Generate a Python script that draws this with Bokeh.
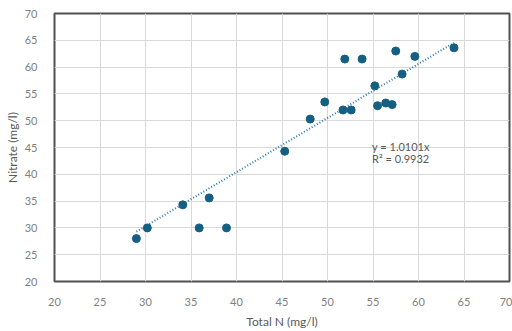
from bokeh.plotting import figure
from bokeh.models import Range1d, FixedTicker, Label
from bokeh.embed import file_html
from bokeh.resources import INLINE

total_n = [29.0, 30.2, 34.1, 37.0, 35.9, 38.9, 45.3, 48.1, 49.7, 51.7, 52.6,
           51.9, 53.8, 55.2, 55.5, 56.4, 57.1, 57.5, 58.2, 59.6, 63.9]
nitrate = [28.0, 30.0, 34.3, 35.6, 30.0, 30.0, 44.3, 50.3, 53.5, 52.0, 52.0,
           61.5, 61.5, 56.5, 52.8, 53.3, 53.0, 63.0, 58.7, 62.0, 63.6]
slope = 1.0101
r2 = 0.9932
ticks = [20, 25, 30, 35, 40, 45, 50, 55, 60, 65, 70]

FONT = "Lato"
GRAY = "#595959"

p = figure(width=512, height=331, output_backend="svg", toolbar_location=None,
           x_range=Range1d(20, 70), y_range=Range1d(20, 70),
           min_border_left=54, min_border_right=3, min_border_top=13, min_border_bottom=48)
p.background_fill_color = "white"
p.border_fill_color = "white"
p.outline_line_color = "#505050"
p.outline_line_width = 2

for ax in (p.xaxis[0], p.yaxis[0]):
    ax.ticker = FixedTicker(ticks=ticks)
    ax.axis_line_color = None
    ax.major_tick_line_color = None
    ax.minor_tick_line_color = None
    ax.major_label_text_color = "#7f7f7f"
    ax.major_label_text_font = FONT
    ax.major_label_text_font_size = "11px"
    ax.axis_label_text_font = FONT
    ax.axis_label_text_font_size = "12px"
    ax.axis_label_text_font_style = "normal"
    ax.axis_label_text_color = GRAY

p.xaxis.axis_label = "Total N (mg/l)"
p.yaxis.axis_label = "Nitrate (mg/l)"
p.xaxis.major_label_standoff = 10
p.yaxis.major_label_standoff = 11
p.xaxis.axis_label_standoff = 5
p.yaxis.axis_label_standoff = 2

p.xgrid.ticker = FixedTicker(ticks=ticks)
p.ygrid.ticker = FixedTicker(ticks=ticks)
p.grid.grid_line_color = "#d9d9d9"
p.grid.grid_line_width = 1

x0, x1 = min(total_n), max(total_n)
p.line([x0, x1], [slope * x0, slope * x1], line_color="#2a7bb0", line_width=2, line_dash="1 2")

p.scatter(total_n, nitrate, size=8, fill_color="#156082", line_color="#156082")

p.add_layout(Label(x=54.9, y=46.4, text=f"y = {slope}x", text_font=FONT,
                   text_font_size="11px", text_color=GRAY, text_baseline="top"))
p.add_layout(Label(x=54.9, y=44.1, text=f"R² = {r2}", text_font=FONT,
                   text_font_size="11px", text_color=GRAY, text_baseline="top"))

open("out.html", "w").write(file_html(p, INLINE))
